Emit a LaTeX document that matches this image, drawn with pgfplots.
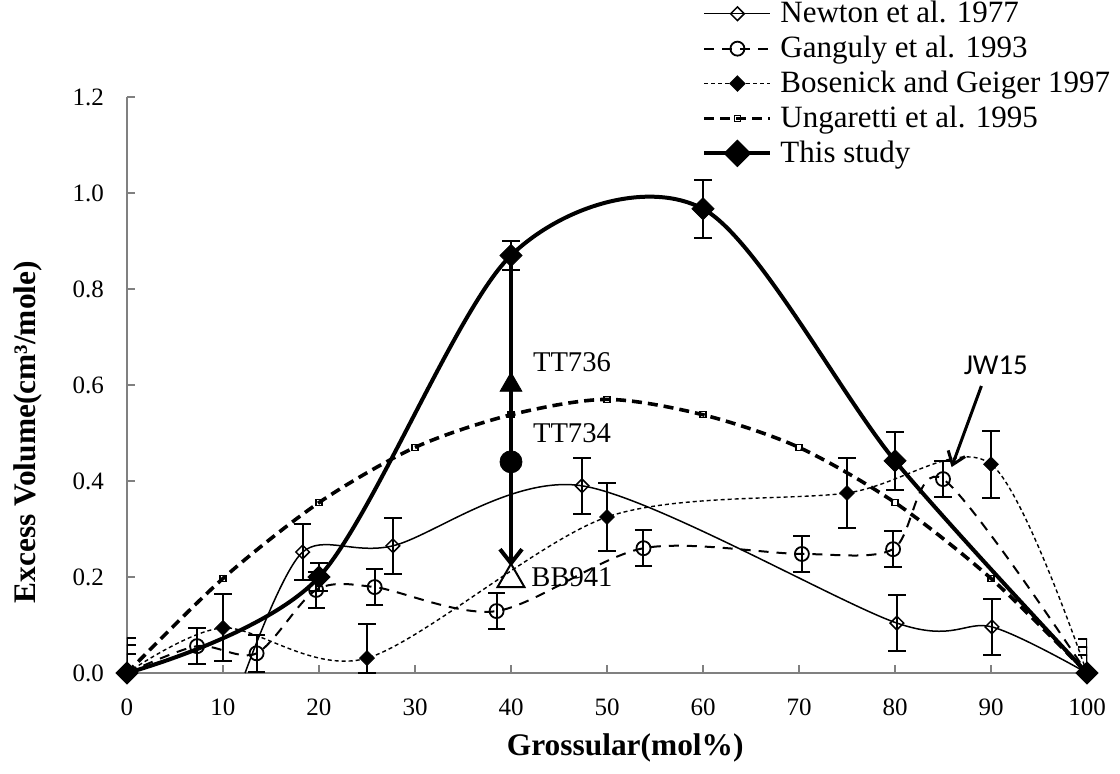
\documentclass[border=0pt]{standalone}
\usepackage{fontspec}
\setmainfont{Liberation Serif}
\newfontfamily\calibri{Carlito}
\usepackage{pgfplots}
\pgfplotsset{compat=1.18}
\usetikzlibrary{arrows.meta}
\begin{document}
\begin{tikzpicture}
\begin{axis}[
  name=ax,
  scale only axis,
  width=480pt, height=288pt,
  xmin=0, xmax=100, ymin=0, ymax=1.2,
  axis x line=bottom, axis y line=left,
  axis line style={-, draw=black!50, line width=0.8pt},
  xtick={0,10,20,30,40,50,60,70,80,90,100},
  ytick={0,0.2,0.4,0.6,0.8,1.0,1.2},
  tick align=inside, major tick length=4pt,
  tick style={black!50, line width=0.8pt},
  /pgf/number format/assume math mode=true,
  ticklabel style={font=\fontsize{12.5}{15}\selectfont},
  yticklabel style={/pgf/number format/fixed, /pgf/number format/fixed zerofill, /pgf/number format/precision=1, xshift=-8pt},
  xticklabel style={yshift=-9.5pt},
  xlabel={Grossular(mol\%)},
  xlabel style={font=\bfseries\fontsize{15.7}{18}\selectfont, at={(axis description cs:0.519,-0.13)}, anchor=center},
  ylabel={Excess Volume(cm³/mole)},
  ylabel style={font=\bfseries\fontsize{15.7}{18}\selectfont, at={(axis description cs:-0.103,0.418)}, anchor=center},
  clip mode=individual,
  legend style={at={(0.599,1.17)}, anchor=north west, draw=none, fill=none,
    font=\fontsize{15.5}{17}\selectfont, inner sep=0pt, row sep=3.2pt, column sep=3pt,
    nodes={inner sep=1pt}},
  legend cell align=left,
  legend image code/.code={\draw[mark repeat=2, mark phase=2, #1] plot coordinates {(0pt,0pt) (16.5pt,0pt) (33pt,0pt)};},
  error bars/error bar style={solid, line width=1pt, black},
  error bars/error mark options={solid, line width=1pt, black, mark size=4.3pt, rotate=90},
]
% ---------- lines (no marks) ----------
\addplot[black, line width=0.75pt, smooth, forget plot] coordinates {
 (12.3,0) (18.3,0.252) (27.7,0.265) (47.4,0.39) (80.2,0.104) (90.1,0.096) (100,0)};
\addplot[black, line width=1pt, dash pattern=on 5pt off 4pt, smooth, forget plot] coordinates {
 (0,0) (7.3,0.056) (13.5,0.041) (19.7,0.173) (25.8,0.179) (38.5,0.129) (53.8,0.26) (70.3,0.248) (79.8,0.258) (85,0.404) (100,0)};
\addplot[black, line width=0.7pt, dash pattern=on 2pt off 1.5pt, smooth, forget plot] coordinates {
 (0,0) (10,0.094) (25,0.031) (50,0.325) (75,0.375) (90,0.435) (100,0)};
\addplot[black, line width=1.8pt, dash pattern=on 5pt off 3pt, smooth, forget plot] coordinates {
 (0,0) (10,0.197) (20,0.355) (30,0.47) (40,0.538) (50,0.57) (60,0.538) (70,0.47) (80,0.355) (90,0.197) (100,0)};
\addplot[black, line width=2pt, smooth, forget plot] coordinates {
 (0,0) (20,0.2) (40,0.87) (60,0.967) (80,0.442) (100,0)};
% ---------- markers with error bars ----------
\addplot[black, only marks, forget plot, mark=square, mark options={rotate=45, solid, line width=0.75pt}, mark size=2.4pt,
  error bars/y dir=both, error bars/y explicit] coordinates {
 (0,0) += (0,0.058) -= (0,0)
 (18.3,0.252) +- (0,0.058) (27.7,0.265) +- (0,0.058) (47.4,0.39) +- (0,0.058)
 (80.2,0.104) +- (0,0.058) (90.1,0.096) +- (0,0.058)
 (100,0) += (0,0.055) -= (0,0)};
\addplot[black, only marks, forget plot, mark=o, mark options={solid, line width=0.9pt}, mark size=3.5pt,
  error bars/y dir=both, error bars/y explicit] coordinates {
 (0,0) += (0,0.04) -= (0,0)
 (7.3,0.056) +- (0,0.038) (13.5,0.041) +- (0,0.038) (19.7,0.173) +- (0,0.038)
 (25.8,0.179) +- (0,0.038) (38.5,0.129) +- (0,0.038) (53.8,0.26) +- (0,0.038)
 (70.3,0.248) +- (0,0.038) (79.8,0.258) +- (0,0.038) (85,0.404) +- (0,0.038)
 (100,0) += (0,0.037) -= (0,0)};
\addplot[black, only marks, forget plot, mark=square*, mark options={rotate=45, solid}, mark size=2.6pt,
  error bars/y dir=both, error bars/y explicit] coordinates {
 (0,0) += (0,0.073) -= (0,0)
 (10,0.094) +- (0,0.07) (25,0.031) += (0,0.071) -= (0,0.031) (50,0.325) +- (0,0.071)
 (75,0.375) +- (0,0.072) (90,0.435) +- (0,0.07)
 (100,0) += (0,0.071) -= (0,0)};
\addplot[black, only marks, forget plot, mark=square, mark options={solid, line width=0.6pt}, mark size=1.5pt] coordinates {
 (10,0.197) (20,0.355) (30,0.47) (40,0.538) (50,0.57) (60,0.538) (70,0.47) (80,0.355) (90,0.197)};
\addplot[black, only marks, forget plot, mark=square*, mark options={rotate=45, solid}, mark size=3.9pt,
  error bars/y dir=both, error bars/y explicit] coordinates {
 (0,0) (20,0.2) +- (0,0.03) (40,0.87) +- (0,0.03) (60,0.967) +- (0,0.06) (80,0.442) +- (0,0.06) (100,0)};
% ---------- arrows and special points ----------
\addplot[black, line width=2pt, -{Straight Barb[length=7pt,width=11pt,line width=2pt]}, forget plot] coordinates {(40,0.866) (40,0.222)};
\addplot[black, only marks, forget plot, mark=triangle*, mark size=6.3pt] coordinates {(40,0.6)};
\addplot[black, only marks, forget plot, mark=*, mark size=5.5pt] coordinates {(40,0.44)};
\addplot[black, only marks, forget plot, mark=triangle, mark options={line width=1pt}, mark size=7.8pt] coordinates {(40,0.195)};
\addplot[black, line width=1.5pt, -{Straight Barb[length=6pt,width=9pt,line width=1.5pt]}, forget plot] coordinates {(89.0,0.598) (85.9,0.429)};
\node[font=\fontsize{14.3}{16}\selectfont] at (axis cs:46.35,0.648) {TT736};
\node[font=\fontsize{14.3}{16}\selectfont] at (axis cs:46.35,0.5) {TT734};
\node[font=\fontsize{14.3}{16}\selectfont] at (axis cs:46.35,0.2) {BB941};
\node[font=\calibri\fontsize{14.4}{16}\selectfont] at (axis cs:90.5,0.642) {JW15};
% ---------- legend entries ----------
\addlegendimage{black, line width=0.75pt, mark=square, mark options={rotate=45, solid, line width=0.75pt}, mark size=2.4pt}
\addlegendentry{Newton et al. 1977}
\addlegendimage{black, line width=1pt, dash pattern=on 5pt off 4pt, mark=o, mark options={solid, line width=0.9pt}, mark size=3.5pt}
\addlegendentry{Ganguly et al. 1993}
\addlegendimage{black, line width=0.7pt, dash pattern=on 2pt off 1.5pt, mark=square*, mark options={rotate=45, solid}, mark size=2.6pt}
\addlegendentry{Bosenick and Geiger 1997}
\addlegendimage{black, line width=1.8pt, dash pattern=on 5pt off 3pt, mark=square, mark options={solid, line width=0.6pt}, mark size=1.5pt}
\addlegendentry{Ungaretti et al. 1995}
\addlegendimage{black, line width=2pt, mark=square*, mark options={rotate=45, solid}, mark size=3.9pt}
\addlegendentry{This study}
\end{axis}
\pgfresetboundingbox
\path ([shift={(-63.5pt,-50pt)}]ax.south west) rectangle ([shift={(16.5pt,48.5pt)}]ax.north east);
\end{tikzpicture}
\end{document}
